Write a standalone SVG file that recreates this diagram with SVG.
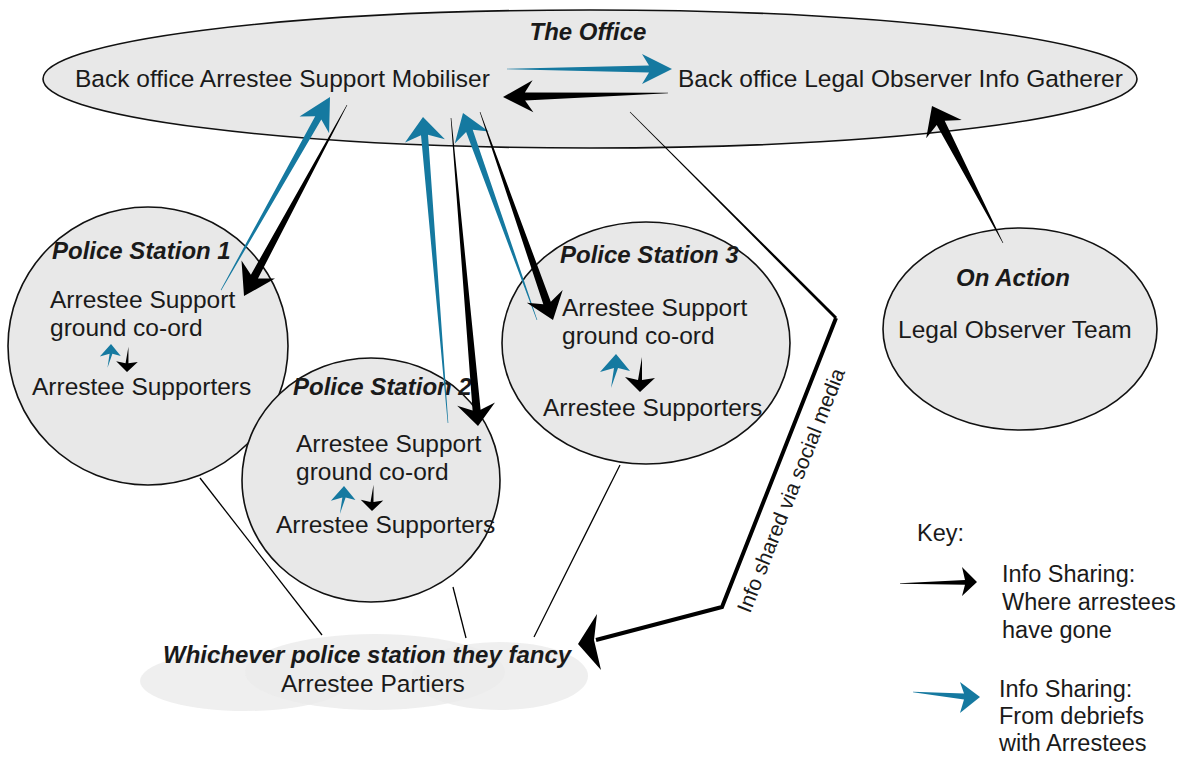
<svg xmlns="http://www.w3.org/2000/svg" width="1180" height="759" viewBox="0 0 1180 759">
<style>
.bg{fill:#ffffff}
.node{fill:#e8e8e8;stroke:#111;stroke-width:1.6}
.cloud{fill:#ebebeb;fill-opacity:0.8;stroke:none}
.t{font-family:"Liberation Sans",Arial,sans-serif;font-size:24.5px;fill:#1a1a1a}
.bi{font-weight:bold;font-style:italic;font-size:24px}
.k{font-size:23.5px}
.mid{text-anchor:middle}
.blue{fill:#1579a0;stroke:none}
.blk{fill:#000;stroke:none}
.thin{stroke:#000;stroke-width:1.3;fill:none}
.soc{stroke:#000;stroke-width:4;fill:none;stroke-linejoin:miter}
</style>
<defs>
<polygon id="upBlue" class="blue" points="0,0 14,17 2,14 -5,34 -2,14 -16,18"/>
<polygon id="downBlk" class="blk" points="0,0 -15,-15 -2,-12 2,-35 2,-12 15,-14"/>
</defs>
<rect class="bg" x="0" y="0" width="1180" height="759"/>

<g id="office">
<ellipse class="node" cx="590" cy="79" rx="547" ry="69"/>
<text class="t bi mid" x="588" y="40">The Office</text>
<text class="t" x="75" y="87">Back office Arrestee Support Mobiliser</text>
<text class="t" x="678" y="87">Back office Legal Observer Info Gatherer</text>
</g>

<g id="ps1">
<ellipse class="node" cx="148" cy="346" rx="140" ry="139"/>
<text class="t bi" x="52" y="259">Police Station 1</text>
<text class="t" x="50" y="308">Arrestee Support</text>
<text class="t" x="50" y="336">ground co-ord</text>
<text class="t" x="32" y="395">Arrestee Supporters</text>
<use href="#upBlue" transform="translate(111,344) scale(0.7)"/>
<use href="#downBlk" transform="translate(127,372) scale(0.72)"/>
</g>

<g id="ps2">
<ellipse class="node" cx="371" cy="480" rx="129" ry="122"/>
<text class="t bi" x="293" y="395">Police Station 2</text>
<text class="t" x="296" y="452">Arrestee Support</text>
<text class="t" x="296" y="480">ground co-ord</text>
<text class="t" x="276" y="533">Arrestee Supporters</text>
<use href="#upBlue" transform="translate(344,486) scale(0.82)"/>
<use href="#downBlk" transform="translate(372,511) scale(0.75)"/>
</g>

<g id="ps3">
<ellipse class="node" cx="646" cy="343" rx="144" ry="121"/>
<text class="t bi" x="560" y="263">Police Station 3</text>
<text class="t" x="562" y="316">Arrestee Support</text>
<text class="t" x="562" y="344">ground co-ord</text>
<text class="t" x="543" y="416">Arrestee Supporters</text>
<use href="#upBlue" transform="translate(616,354)"/>
<use href="#downBlk" transform="translate(640,392)"/>
</g>

<g id="onaction">
<ellipse class="node" cx="1020" cy="329" rx="137" ry="101"/>
<text class="t bi mid" x="1013" y="286">On Action</text>
<text class="t" x="898" y="338">Legal Observer Team</text>
</g>

<g id="partiers">
<ellipse class="cloud" cx="245" cy="681" rx="105" ry="30"/>
<ellipse class="cloud" cx="375" cy="672" rx="130" ry="38"/>
<ellipse class="cloud" cx="500" cy="676" rx="88" ry="34"/>
<text class="t bi" x="163" y="663">Whichever police station they fancy</text>
<text class="t" x="281" y="692">Arrestee Partiers</text>
</g>

<g id="connectors">
<line class="thin" x1="200" y1="478" x2="322" y2="635"/>
<line class="thin" x1="453" y1="587" x2="466" y2="638"/>
<line class="thin" x1="620" y1="465" x2="534" y2="637"/>

<polygon class="blue" points="507,68.7 649,65.5 642,54 672,69 642,84 649,72.5 507,69.3"/>
<polygon class="blk" points="668,92.7 524.9,92.5 532.6,80.3 503,97 533.4,112.3 525.1,100.5 668,93.3"/>
<polygon class="blue" points="221.3,290.2 321.3,119.6 329.1,133.2 330,97 299.5,116.5 315.2,116.2 220.7,289.9"/>
<polygon class="blk" points="346.7,104.9 250.9,274.7 241.5,260.6 244,296 275,278.6 258,278.5 347.3,105.1"/>
<polygon class="blue" points="448.3,423 428,134.7 444.9,139.3 423,117 405,142.6 421,135.2 447.7,423"/>
<polygon class="blk" points="450.7,118 472.6,410.4 457.2,405.7 478,426 495,402.4 480.6,409.7 451.3,118"/>
<polygon class="blue" points="537.3,319.9 472.7,129.7 488.7,131.4 463,113 454.8,143.5 466.1,132.1 536.7,320.1"/>
<polygon class="blk" points="479.7,112.1 543.3,304.3 526.8,302.7 553,320 562.7,290.1 550.8,301.7 480.3,111.9"/>
<polygon class="blk" points="1003.3,242.9 944.7,120.8 961.7,119.9 932,106 926.2,138.3 936.7,124.9 1002.7,243.1"/>

<polygon class="blk" points="629.8,112.2 834.9,319.1 837.1,316.9 630.2,111.8"/>
<path class="soc" d="M836,318 L722,607 L596,640"/>
<polygon class="blk" points="578,644 597,614 594,640 601,670"/>
<text class="t" style="font-size:21px" transform="translate(750,614) rotate(-68.5)">Info shared via social media</text>
</g>

<g id="key">
<text class="t k" x="917" y="541">Key:</text>
<polygon class="blk" points="900,583.2 965,580 962,567 977,582 962,596 965,584.8 900,583.8"/>
<text class="t k" x="1002" y="582">Info Sharing:</text>
<text class="t k" x="1002" y="610">Where arrestees</text>
<text class="t k" x="1002" y="638">have gone</text>
<polygon class="blue" points="913,691.7 964,693.5 960,682 980,697 960,713 964,699.5 913,692.3"/>
<text class="t k" x="999" y="697">Info Sharing:</text>
<text class="t k" x="999" y="724">From debriefs</text>
<text class="t k" x="999" y="751">with Arrestees</text>
</g>
</svg>
